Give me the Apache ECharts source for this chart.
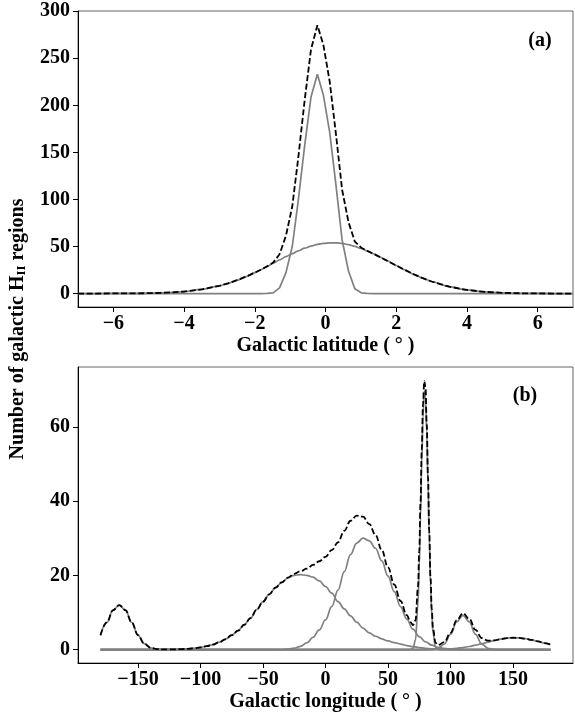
<!DOCTYPE html>
<html>
<head>
<meta charset="utf-8">
<script src="https://cdn.jsdelivr.net/npm/echarts@6/dist/echarts.min.js"></script>
<style>
  html, body { margin: 0; padding: 0; background: #fff; }
  #chart { width: 575px; height: 718px; }
</style>
</head>
<body>
<div id="chart"></div>
<script>
// panel (a): galactic latitude
const lat = [-7, -6.5, -6, -5.5, -5, -4.5, -4, -3.5, -3,
  -2.75, -2.5, -2.25, -2,
  -1.83, -1.65, -1.48, -1.3, -1.12, -0.94, -0.77, -0.59, -0.41, -0.23, -0.06,
  0.12, 0.3, 0.47, 0.65, 0.83, 1.01, 1.18, 1.36, 1.54, 1.72,
  2, 2.25, 2.5, 2.75, 3,
  3.5, 4, 4.5, 5, 5.5, 6, 6.5, 7];
const latNarrow = [0, 0, 0, 0, 0, 0, 0, 0, 0,
  0, 0, 0, 0,
  0, 0.1, 0.7, 6, 22, 50, 99, 157, 209, 233, 211,
  171, 114, 57, 24, 5, 0.8, 0.1, 0, 0, 0,
  0, 0, 0, 0, 0,
  0, 0, 0, 0, 0, 0, 0, 0];
const latBroad = [0, 0, 0.1, 0.1, 0.4, 0.9, 2.1, 4.4, 8.2,
  10.9, 14.2, 17.9, 22.2,
  25.3, 28.8, 32.2, 35.7, 39.2, 42.5, 45.4, 48.2, 50.4, 52.2, 53.3,
  53.9, 53.9, 53.3, 52.0, 50.2, 47.9, 45.3, 42.2, 38.8, 35.3,
  29.8, 25.0, 20.4, 16.4, 12.8,
  7.3, 3.8, 1.8, 0.8, 0.3, 0.1, 0, 0];
const latTotal = [0, 0, 0.1, 0.1, 0.4, 0.9, 2.1, 4.4, 8.2,
  10.9, 14.2, 17.9, 22.2,
  25.3, 28.9, 32.9, 41.7, 61.2, 92.5, 144.4, 205.2, 259.4, 285.2, 264.3,
  225.0, 168.0, 110.3, 76.0, 55.2, 48.7, 45.4, 42.2, 38.8, 35.3,
  29.8, 25.0, 20.4, 16.4, 12.8,
  7.3, 3.8, 1.8, 0.8, 0.3, 0.1, 0, 0];

// panel (b): galactic longitude, one array pair per component
const c1Lon = [-180, -175, -170, -165, -160, -155, -150, -145, -140, -135, -130, -125, 180];
const c1Val = [3.9, 7.3, 10.6, 12.0, 10.6, 7.3, 3.9, 1.6, 0.5, 0.13, 0.03, 0, 0];

const c2Lon = [-180, -140, -135, -130, -125, -120, -115, -110, -105, -100, -95, -90, -85,
  -80, -75, -70, -65, -60, -55, -50, -45, -40, -35, -30, -25, -20, -15, -10, -5,
  0, 5, 10, 15, 20, 25, 30, 35, 40, 45, 50, 55, 60, 65, 70, 75, 80, 85, 90, 95, 100, 180];
const c2Val = [0, 0, 0.02, 0.03, 0.05, 0.08, 0.14, 0.23, 0.38, 0.6, 0.92, 1.37, 2.0,
  2.8, 3.9, 5.1, 6.7, 8.5, 10.8, 12.9, 14.9, 16.7, 18.1, 19.3, 20.0, 20.2, 20.0, 19.5, 18.5,
  17.0, 15.2, 12.9, 11.0, 9.1, 7.4, 5.8, 4.5, 3.6, 2.9, 2.35, 1.9, 1.5, 1.1, 0.8, 0.55, 0.35, 0.2, 0.1, 0.05, 0, 0];

const c3Lon = [-180, -45, -40, -35, -30, -25, -20, -15, -10, -5, 0, 5, 10, 15, 20, 25, 30,
  35, 40, 45, 50, 55, 60, 65, 70, 75, 80, 85, 90, 95, 100, 105, 110, 180];
const c3Val = [0, 0, 0.02, 0.04, 0.11, 0.4, 0.9, 1.8, 3.3, 5.3, 8.0, 11.6, 16.0, 21.0, 25.6, 28.7, 30.0,
  29.3, 27.3, 23.9, 19.8, 15.6, 11.6, 8.2, 5.5, 3.5, 2.1, 1.2, 0.64, 0.33, 0.16, 0.07, 0.03, 0];

const c4Lon = [-180, 66, 68, 70, 72, 74, 75, 76, 77, 78, 79, 80, 81, 82, 83, 84, 85, 86, 88, 90, 92, 180];
const c4Val = [0, 0, 0.03, 0.34, 2.6, 12.4, 22.4, 35.7, 50.5, 63.0, 69.6, 68.0, 58.6, 44.6, 30.1, 17.9, 9.4, 4.4, 0.7, 0.06, 0, 0];

const c5Lon = [-180, 80, 85, 90, 95, 100, 105, 110, 115, 120, 125, 130, 135, 140, 180];
const c5Val = [0, 0, 0.06, 0.37, 1.5, 4.1, 7.5, 9.2, 7.5, 4.1, 1.5, 0.37, 0.06, 0, 0];

const c6Lon = [-180, 85, 90, 95, 100, 105, 110, 115, 120, 125, 130, 135, 140, 145, 150,
  155, 160, 165, 170, 175, 180];
const c6Val = [0, 0, 0.07, 0.12, 0.22, 0.36, 0.56, 0.84, 1.19, 1.59, 2.03, 2.46, 2.82, 3.08, 3.2,
  3.15, 2.94, 2.61, 2.2, 1.77, 1.34];

const lonTotal = [-180, -175, -170, -165, -160, -155, -150, -145, -140, -135,
  -130, -125, -120, -115, -110, -105, -100, -95, -90, -85,
  -80, -75, -70, -65, -60, -55, -50, -45, -40, -35,
  -30, -25, -20, -15, -10, -5, 0, 5, 10, 15,
  20, 25, 30, 35, 40, 45, 50, 55, 60, 65,
  68, 70, 72, 74, 75, 76, 77, 78, 79, 80, 81, 82, 83, 84, 85, 86, 88, 90,
  95, 100, 105, 110, 115, 120, 125, 130, 135, 140, 145, 150, 155, 160, 165, 170, 175, 180];
const valTotal = [3.9, 7.3, 10.6, 12.0, 10.6, 7.3, 3.9, 1.6, 0.5, 0.15,
  0.06, 0.05, 0.08, 0.14, 0.23, 0.38, 0.6, 0.92, 1.37, 2.0,
  2.8, 3.9, 5.1, 6.7, 8.5, 10.8, 12.9, 14.9, 16.7, 18.1,
  19.4, 20.4, 21.1, 21.8, 22.8, 23.8, 25.0, 26.8, 28.9, 32.0,
  34.7, 36.1, 35.8, 33.8, 30.9, 26.8, 22.15, 17.5, 13.1, 9.3,
  7.4, 6.6, 7.9, 16.8, 26.5, 39.4, 53.8, 66.0, 72.3, 70.5, 60.8, 46.6, 31.9, 19.5, 10.9, 5.7, 1.9, 1.24,
  2.0, 4.5, 7.9, 9.8, 8.3, 5.3, 3.1, 2.4, 2.5, 2.82, 3.08, 3.2, 3.15, 2.94, 2.61, 2.2, 1.77, 1.34];

const latTicks = [-6, -4, -2, 0, 2, 4, 6];
const countTicksA = [0, 50, 100, 150, 200, 250, 300];
const lonTicks = [-150, -100, -50, 0, 50, 100, 150];
const countTicksB = [0, 20, 40, 60];

const FONT = 'Liberation Serif';
const FS = 20;
const GREY = '#808080';
const minus = v => String(v).replace('-', '\u2212');
const pairs = (xs, ys) => xs.map((x, i) => [x, ys[i]]);

function xAxis(idx, min, max, ticks, name) {
  return {
    type: 'value', gridIndex: idx, min: min, max: max,
    name: name, nameLocation: 'middle', nameGap: 29,
    nameTextStyle: { fontFamily: FONT, fontWeight: 'bold', fontSize: FS, color: '#000' },
    axisLine: { show: true, onZero: false, lineStyle: { color: '#000', width: 1 } },
    axisTick: { show: true, length: 5, customValues: ticks, lineStyle: { color: '#000' } },
    axisLabel: { customValues: ticks, margin: 7, formatter: minus,
      fontFamily: FONT, fontWeight: 'bold', fontSize: FS, color: '#000' },
    splitLine: { show: false }
  };
}
function yAxis(idx, min, max, ticks) {
  return {
    type: 'value', gridIndex: idx, min: min, max: max,
    axisLine: { show: true, onZero: false, lineStyle: { color: '#000', width: 1 } },
    axisTick: { show: true, length: 5, customValues: ticks, lineStyle: { color: '#000' } },
    axisLabel: { customValues: ticks, margin: 8, formatter: minus,
      fontFamily: FONT, fontWeight: 'bold', fontSize: FS, color: '#000' },
    splitLine: { show: false }
  };
}
function line(ax, data, color, dashed, smooth) {
  return {
    type: 'line', xAxisIndex: ax, yAxisIndex: ax, data: data,
    showSymbol: false, symbol: 'none', smooth: smooth, smoothMonotone: 'x',
    lineStyle: { color: color, width: dashed ? 1.8 : 1.7, type: dashed ? [6, 2.6] : 'solid' },
    z: dashed ? 5 : 3, silent: true
  };
}

const chart = echarts.init(document.getElementById('chart'));
chart.setOption({
  animation: false,
  backgroundColor: '#fff',
  grid: [
    { left: 78, right: 2, top: 11, height: 296, show: true, borderColor: '#666', borderWidth: 1 },
    { left: 78, right: 2, top: 367, height: 296, show: true, borderColor: '#666', borderWidth: 1 }
  ],
  xAxis: [
    xAxis(0, -7, 7, latTicks, 'Galactic latitude ( \u00b0 )'),
    xAxis(1, -198, 198, lonTicks, 'Galactic longitude ( \u00b0 )')
  ],
  yAxis: [
    yAxis(0, -14.3, 300.3, countTicksA),
    yAxis(1, -3.6, 76.1, countTicksB)
  ],
  graphic: [
    { type: 'text', x: 18, y: 329, rotation: Math.PI / 2,
      style: { text: 'Number of galactic H{sub|II} regions', fill: '#000',
        font: 'bold 20px "Liberation Serif"', align: 'center', verticalAlign: 'middle',
        rich: { sub: { fontFamily: FONT, fontWeight: 'bold', fontSize: 13, fill: '#000',
          verticalAlign: 'bottom', padding: [7, 0, 0, 0] } } } },
    { type: 'text', x: 540, y: 41,
      style: { text: '(a)', fill: '#000', font: 'bold 20px "Liberation Serif"',
        align: 'center', verticalAlign: 'middle' } },
    { type: 'text', x: 525, y: 396,
      style: { text: '(b)', fill: '#000', font: 'bold 20px "Liberation Serif"',
        align: 'center', verticalAlign: 'middle' } }
  ],
  series: [
    line(0, pairs(lat, latNarrow), GREY, false, false),
    line(0, pairs(lat, latBroad), GREY, false, 0.3),
    line(0, pairs(lat, latTotal), '#000', true, false),
    line(1, pairs(c1Lon, c1Val), GREY, false, 0.4),
    line(1, pairs(c2Lon, c2Val), GREY, false, 0.4),
    line(1, pairs(c3Lon, c3Val), GREY, false, 0.4),
    line(1, pairs(c4Lon, c4Val), GREY, false, 0.4),
    line(1, pairs(c5Lon, c5Val), GREY, false, 0.4),
    line(1, pairs(c6Lon, c6Val), GREY, false, 0.4),
    line(1, pairs(lonTotal, valTotal), '#000', true, 0.4)
  ]
});
</script>
</body>
</html>
